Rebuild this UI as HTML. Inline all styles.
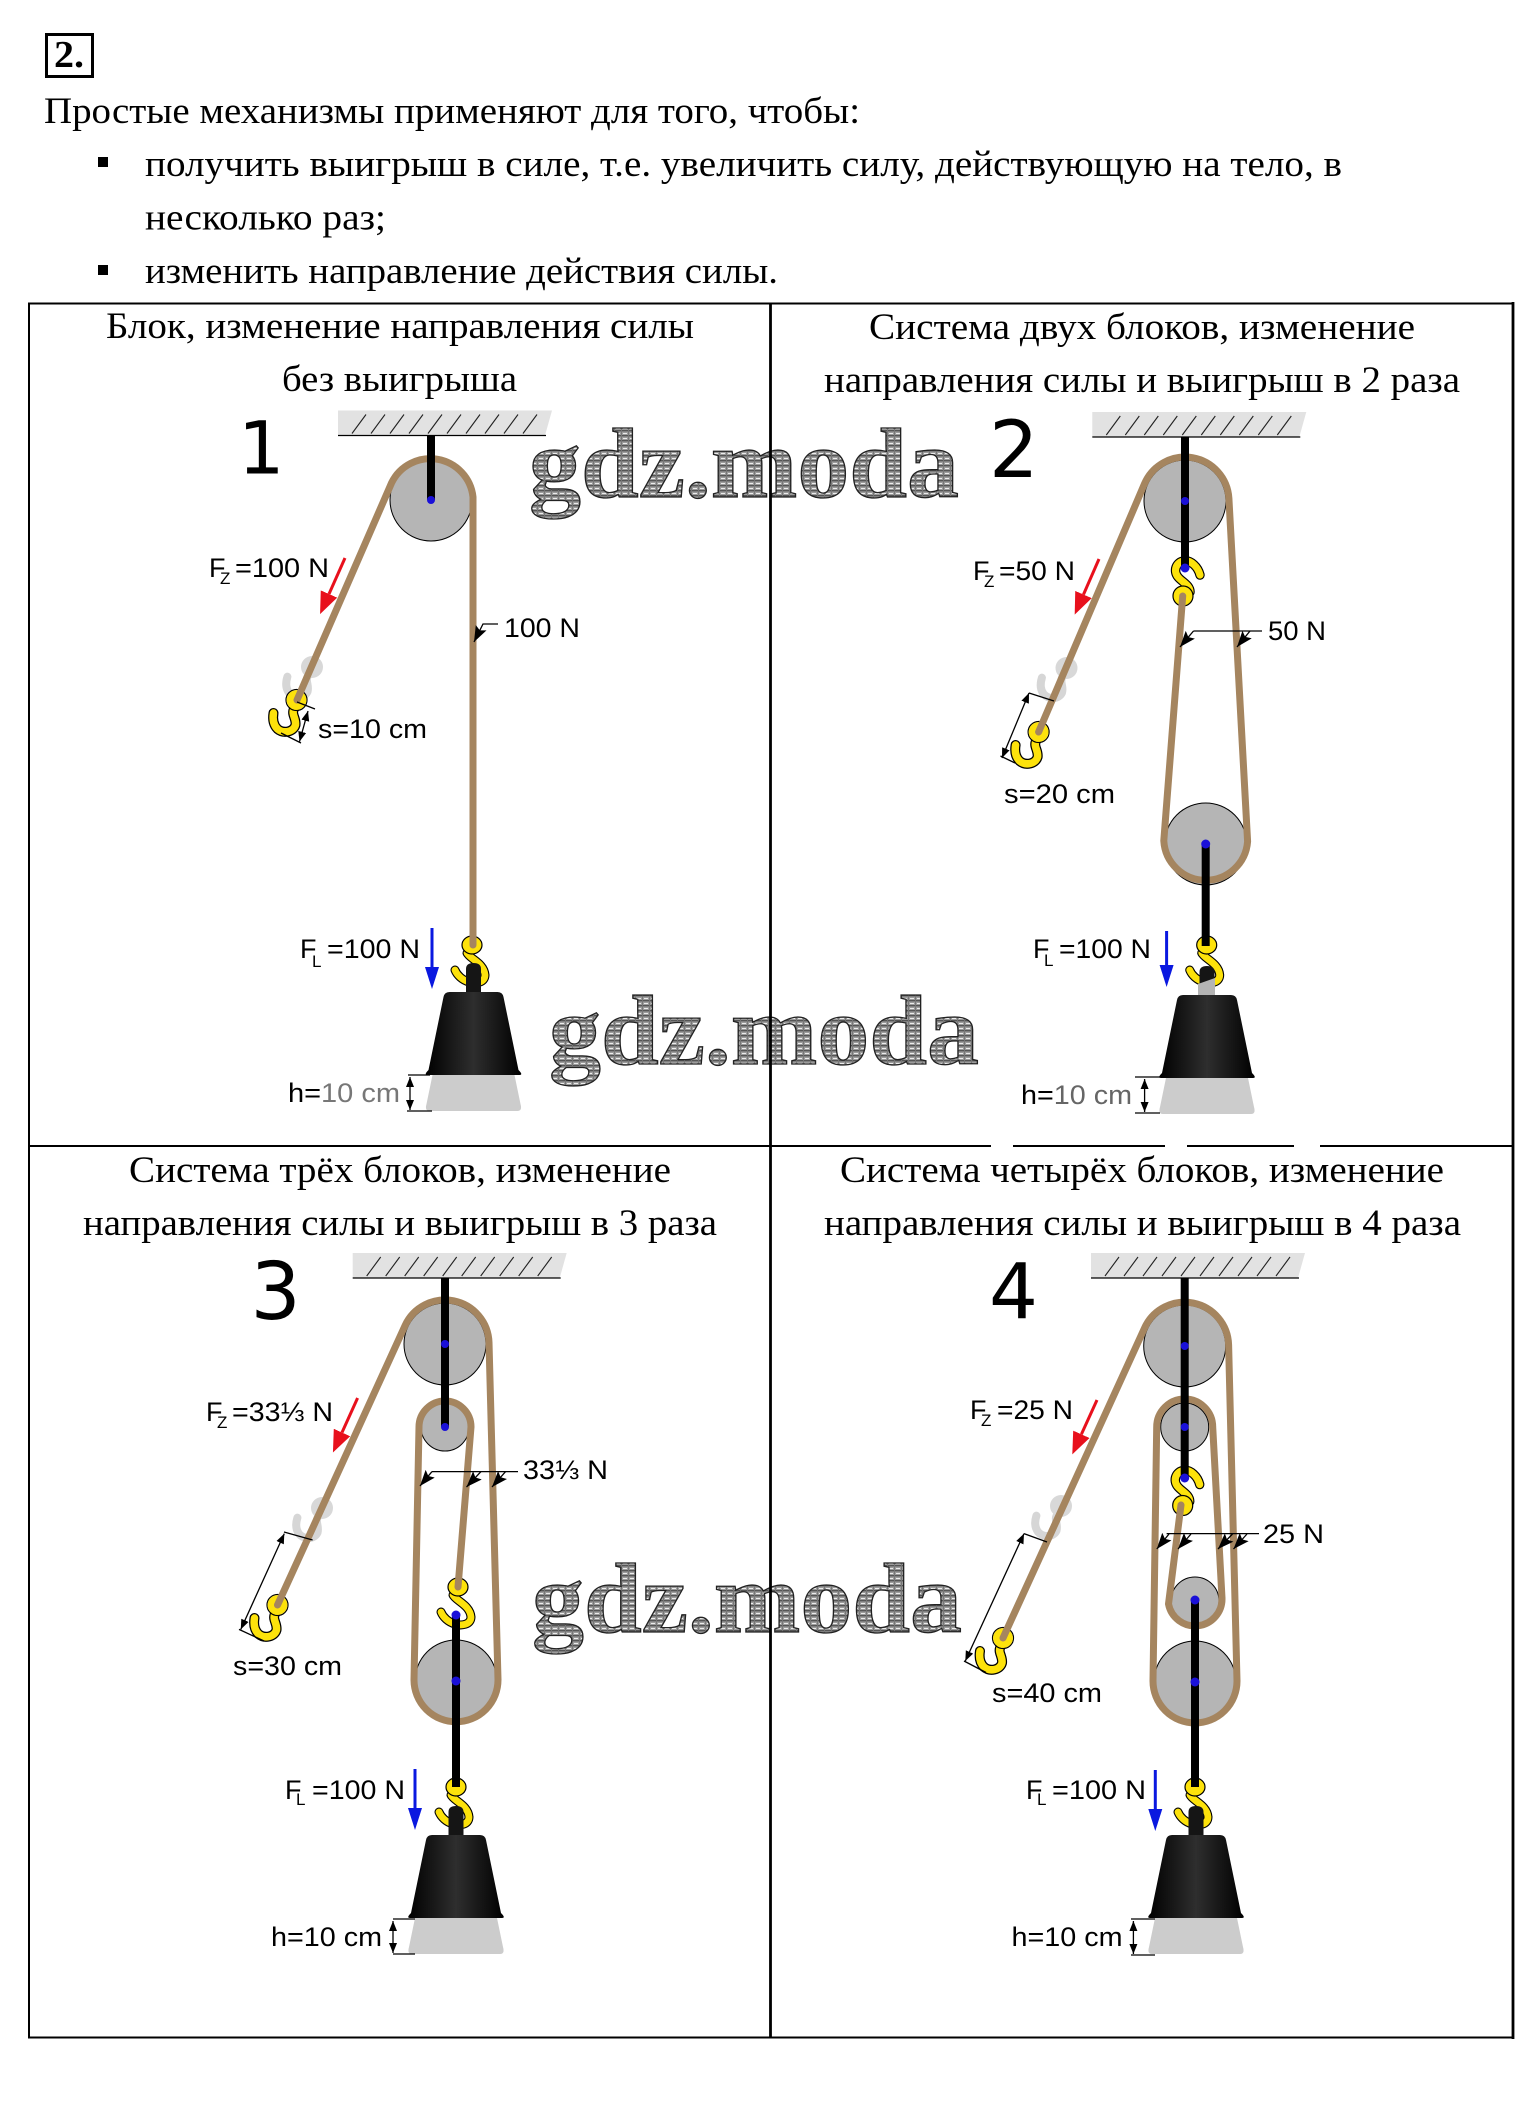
<!DOCTYPE html>
<html><head><meta charset="utf-8"><style>
html,body{margin:0;padding:0;background:#fff}
svg{display:block}
.s{font-family:"Liberation Serif","DejaVu Serif",serif;font-size:36.5px;fill:#000}
.l{font-family:"Liberation Sans","DejaVu Sans",sans-serif;font-size:27px;fill:#000}
.u{font-family:"Liberation Sans","DejaVu Sans",sans-serif;font-size:17px;fill:#000}
.n{font-family:"DejaVu Sans",sans-serif;fill:#000}
.w{font-family:"Liberation Serif",serif;font-weight:bold;font-size:100px;fill:url(#hatch);stroke:#222;stroke-width:1.3}
.r{fill:none;stroke:#a5855f;stroke-width:7;stroke-linejoin:round;stroke-linecap:round}
.ax{stroke:#000;stroke-width:8;fill:none}
.p{fill:#b5b5b5;stroke:#000;stroke-width:1}
.d{fill:#1a10d8}
.t{stroke:#000;stroke-width:1.3;fill:none}
.da{stroke:#000;stroke-width:1.3;fill:none;marker-start:url(#sm);marker-end:url(#sm)}
.la{stroke:#000;stroke-width:1.3;fill:none;marker-end:url(#bk)}
.ra{stroke:#e8101c;stroke-width:3;marker-end:url(#rd)}
.ba{stroke:#0a18e0;stroke-width:3;marker-end:url(#bl)}
</style></head><body>
<svg xmlns="http://www.w3.org/2000/svg" width="1532" height="2121" viewBox="0 0 1532 2121">
<defs>
<pattern id="hatch" width="7" height="5" patternUnits="userSpaceOnUse">
<rect width="7" height="5" fill="#9c9c9c"/><rect width="7" height="1.4" fill="#555"/><rect y="3" width="4" height="1" fill="#ececec"/><rect x="5" width="1" height="5" fill="#777"/>
</pattern>
<linearGradient id="wg" x1="0" x2="1" y1="0" y2="0"><stop offset="0" stop-color="#000"/><stop offset=".5" stop-color="#2e2e2e"/><stop offset="1" stop-color="#000"/></linearGradient>
<marker id="sm" markerUnits="userSpaceOnUse" markerWidth="12" markerHeight="10" refX="10" refY="4" orient="auto-start-reverse"><path d="M0,0 L10,4 L0,8z" fill="#000"/></marker>
<marker id="bk" markerUnits="userSpaceOnUse" markerWidth="20" markerHeight="14" refX="16" refY="6" orient="auto"><path d="M0,0 L16,6 L0,12 L3,6z" fill="#000"/></marker>
<marker id="rd" markerUnits="userSpaceOnUse" markerWidth="24" markerHeight="20" refX="0" refY="10" orient="auto"><path d="M0,1 L22,10 L0,19z" fill="#e8101c"/></marker>
<marker id="bl" markerUnits="userSpaceOnUse" markerWidth="24" markerHeight="20" refX="0" refY="10" orient="auto"><path d="M0,3 L22,10 L0,17z" fill="#0a18e0"/></marker>
<g id="ceil">
<path d="M0,-25 H214 L207,0 H0Z" fill="#e2e2e2"/>
<path d="M0,0 H208" stroke="#000" stroke-width="1.3"/>
<path d="M14,-2 l14,-19 M33,-2 l14,-19 M52,-2 l14,-19 M71,-2 l14,-19 M90,-2 l14,-19 M109,-2 l14,-19 M128,-2 l14,-19 M147,-2 l14,-19 M166,-2 l14,-19 M185,-2 l14,-19" stroke="#222" stroke-width="1.1"/>
</g>
<g id="hookA">
<path d="M-2,8 C-6,14 0,18 -1,25 C-3,32 -13,34 -19,29 C-23,25 -24,19 -23,13" fill="none" stroke="#000" stroke-width="10" stroke-linecap="round"/>
<path d="M-2,8 C-6,14 0,18 -1,25 C-3,32 -13,34 -19,29 C-23,25 -24,19 -23,13" fill="none" stroke="#fde20b" stroke-width="7.5" stroke-linecap="round"/>
<circle r="8" fill="#fde20b" stroke="#000" stroke-width="0"/><circle r="10.5" fill="none" stroke="#000" stroke-width="1.2"/><circle r="9.9" fill="#fde20b"/>
</g>
<g id="hookB">
<path d="M-5,8 C-2,14 12,18 13,30 C13,38 3,39 -3,37 C-10,35 -15,30 -17,25" fill="none" stroke="#000" stroke-width="9" stroke-linecap="round"/>
<path d="M-5,8 C-2,14 12,18 13,30 C13,38 3,39 -3,37 C-10,35 -15,30 -17,25" fill="none" stroke="#fde20b" stroke-width="6.8" stroke-linecap="round"/>
<ellipse rx="10" ry="9" fill="#fde20b" stroke="#000" stroke-width="1.2"/>
</g>
<g id="hookC">
<path d="M15,6 C13,-2 6,-9 -1,-8 C-9,-7 -12,2 -7,8 C-3,13 5,16 5,23" fill="none" stroke="#000" stroke-width="9.5" stroke-linecap="round"/>
<path d="M15,6 C13,-2 6,-9 -1,-8 C-9,-7 -12,2 -7,8 C-3,13 5,16 5,23" fill="none" stroke="#fde20b" stroke-width="7.2" stroke-linecap="round"/>
<circle cx="-2" cy="27" r="10" fill="#fde20b" stroke="#000" stroke-width="1.2"/>
</g>
<g id="ghost">
<path d="M-2,8 C-6,14 0,18 -1,25 C-3,32 -13,34 -19,29 C-23,25 -24,19 -23,13" fill="none" stroke="#d6d6d6" stroke-width="8" stroke-linecap="round" transform="rotate(8)"/>
<circle r="11" fill="#d8d8d8"/>
</g>
<g id="weight">
<path d="M-7.5,0 V-23 Q-7.5,-29 0,-29 Q7.5,-29 7.5,-23 V0Z" fill="#151515"/>
<path d="M-24,0 H24 Q29,0 30,5 L45,78 Q50,83 46,83 H-46 Q-50,83 -45,78 L-30,5 Q-29,0 -24,0Z" fill="url(#wg)"/>
<path d="M-41,83 H41 L47,112 Q49,119 44,119 H-44 Q-49,119 -47,112Z" fill="#cccccc"/>
</g>
</defs>

<!-- watermarks (behind table lines) -->
<text class="w" x="529" y="497" textLength="430" lengthAdjust="spacingAndGlyphs">gdz.moda</text>
<text class="w" x="549" y="1064" textLength="430" lengthAdjust="spacingAndGlyphs">gdz.moda</text>
<text class="w" x="532" y="1632" textLength="430" lengthAdjust="spacingAndGlyphs">gdz.moda</text>

<!-- header -->
<rect x="46.5" y="34.5" width="46" height="42" fill="none" stroke="#000" stroke-width="3"/>
<text x="54" y="67" font-family="Liberation Serif" font-weight="bold" font-size="38" textLength="30" lengthAdjust="spacingAndGlyphs">2.</text>
<text class="s" x="44" y="123" textLength="816" lengthAdjust="spacingAndGlyphs">Простые механизмы применяют для того, чтобы:</text>
<rect x="98" y="157" width="10" height="10"/>
<text class="s" x="145" y="176" textLength="1197" lengthAdjust="spacingAndGlyphs">получить выигрыш в силе, т.е. увеличить силу, действующую на тело, в</text>
<text class="s" x="145" y="229.5" textLength="241" lengthAdjust="spacingAndGlyphs">несколько раз;</text>
<rect x="98" y="265" width="10" height="10"/>
<text class="s" x="145" y="283" textLength="633" lengthAdjust="spacingAndGlyphs">изменить направление действия силы.</text>

<!-- table -->
<path d="M28,303.5 H1513 M29,1146 H1513 M28,2037.5 H1513 M29,303 V2038" stroke="#000" stroke-width="2" fill="none"/>
<path d="M1513,302 V2039 M770.5,303 V2037" stroke="#000" stroke-width="2.8" fill="none"/>
<rect x="991" y="1143" width="22" height="6" fill="#fff"/><rect x="1165" y="1143" width="22" height="6" fill="#fff"/><rect x="1294" y="1143" width="26" height="6" fill="#fff"/>

<!-- titles -->
<text class="s" x="106" y="338" textLength="588" lengthAdjust="spacingAndGlyphs">Блок, изменение направления силы</text>
<text class="s" x="282" y="391" textLength="235" lengthAdjust="spacingAndGlyphs">без выигрыша</text>
<text class="s" x="869" y="339" textLength="546" lengthAdjust="spacingAndGlyphs">Система двух блоков, изменение</text>
<text class="s" x="824" y="392" textLength="636" lengthAdjust="spacingAndGlyphs">направления силы и выигрыш в 2 раза</text>
<text class="s" x="129" y="1182" textLength="542" lengthAdjust="spacingAndGlyphs">Система трёх блоков, изменение</text>
<text class="s" x="83" y="1235" textLength="634" lengthAdjust="spacingAndGlyphs">направления силы и выигрыш в 3 раза</text>
<text class="s" x="840" y="1182" textLength="604" lengthAdjust="spacingAndGlyphs">Система четырёх блоков, изменение</text>
<text class="s" x="824" y="1235" textLength="637" lengthAdjust="spacingAndGlyphs">направления силы и выигрыш в 4 раза</text>

<!-- numbers -->
<text class="n" x="238" y="473.5" font-size="73">1</text>
<text class="n" x="989" y="477" font-size="78">2</text>
<text class="n" x="250.5" y="1319" font-size="79">3</text>
<text class="n" x="989" y="1318" font-size="77">4</text>

<!-- PANEL 1 -->
<use href="#ceil" x="338" y="435.5"/>
<use href="#ghost" x="312" y="667"/>
<circle class="p" cx="431" cy="500" r="41"/>
<use href="#hookA" x="296.5" y="700"/>
<use href="#hookB" x="472" y="945"/>
<path class="r" d="M297,700 L391.6,482.8 A43,43 0 0 1 473,497 V945"/>
<path class="ax" d="M431,435 V500"/><circle class="d" cx="431" cy="500" r="4"/>
<use href="#weight" x="473.5" y="992"/>
<path class="ra" d="M345,558 L329,594"/>
<path class="ba" d="M432,928 V967"/>
<path class="la" d="M498,624 H483 L474,642"/>
<path class="t" d="M297,702 L315,709 M281,733 L301,743 M408,1075 H430 M407,1111 H432"/>
<path class="da" d="M308,711 L299.5,741.6"/>
<path class="da" d="M410,1077 V1110"/>
<text class="l" x="209" y="577" textLength="19">F</text><text class="u" x="220" y="584">Z</text>
<text class="l" x="235" y="577" textLength="94" lengthAdjust="spacingAndGlyphs">=100 N</text>
<text class="l" x="504" y="637" textLength="76" lengthAdjust="spacingAndGlyphs">100 N</text>
<text class="l" x="318" y="738" textLength="109" lengthAdjust="spacingAndGlyphs">s=10 cm</text>
<text class="l" x="300" y="958">F</text><text class="u" x="312" y="967">L</text>
<text class="l" x="327" y="958" textLength="93" lengthAdjust="spacingAndGlyphs">=100 N</text>
<text class="l" x="288" y="1102" textLength="112" lengthAdjust="spacingAndGlyphs">h=<tspan fill="#777">10 cm</tspan></text>

<!-- PANEL 2 -->
<use href="#ceil" x="1092.3" y="437"/>
<use href="#ghost" x="1066.5" y="668"/>
<circle class="p" cx="1185" cy="501" r="41"/>
<circle class="p" cx="1205.7" cy="844" r="41"/>
<use href="#hookC" x="1185" y="569"/>
<use href="#hookA" x="1038.6" y="732"/>
<use href="#hookB" x="1206.7" y="945"/>
<path class="r" d="M1038.6,732 L1144.5,483.8 A44,44 0 0 1 1228.9,498.4 L1247.6,841.5 A42,42 0 0 1 1163.8,840.8 L1182.7,596"/>
<path class="ax" d="M1185,437 V568"/><path class="ax" d="M1205.7,844 V946"/>
<circle class="d" cx="1185" cy="501" r="4"/><circle class="d" cx="1185" cy="568" r="4.5"/><circle class="d" cx="1205.7" cy="844" r="4.5"/>
<use href="#weight" x="1207" y="995"/>
<path d="M1198,984 L1215,978 V995 H1198Z" fill="#b4b4b4"/>
<path class="ra" d="M1099,559 L1083.5,594.5"/>
<path class="ba" d="M1166.6,931 V965"/>
<path class="t" d="M1193.5,631 H1262"/>
<path class="la" d="M1193.5,631 L1180,647"/><path class="la" d="M1250,631 L1237,647"/>
<path class="t" d="M1029,693 L1054,701 M1000.5,756 L1015,763 M1135,1077 H1160 M1135,1113 H1160"/>
<path class="da" d="M1029,693 L1002,758"/>
<path class="da" d="M1144.6,1079 V1112"/>
<text class="l" x="973" y="580">F</text><text class="u" x="984" y="587">Z</text>
<text class="l" x="999" y="580" textLength="76" lengthAdjust="spacingAndGlyphs">=50 N</text>
<text class="l" x="1268" y="640" textLength="58" lengthAdjust="spacingAndGlyphs">50 N</text>
<text class="l" x="1004" y="803" textLength="111" lengthAdjust="spacingAndGlyphs">s=20 cm</text>
<text class="l" x="1033" y="958">F</text><text class="u" x="1044" y="966">L</text>
<text class="l" x="1059" y="958" textLength="92" lengthAdjust="spacingAndGlyphs">=100 N</text>
<text class="l" x="1021" y="1104" textLength="111" lengthAdjust="spacingAndGlyphs" fill="#555">h=<tspan fill="#666">10 cm</tspan></text>

<!-- PANEL 3 -->
<use href="#ceil" x="352.7" y="1278"/>
<use href="#ghost" x="322" y="1508"/>
<circle class="p" cx="445" cy="1344" r="41"/>
<circle class="p" cx="445" cy="1427" r="24"/>
<circle class="p" cx="456" cy="1681" r="41"/>
<use href="#hookB" x="458" y="1587"/>
<use href="#hookA" x="277.5" y="1605"/>
<use href="#hookB" x="456" y="1787"/>
<path class="r" d="M277.5,1605 L405,1325.7 A44,44 0 0 1 489,1342.5 L498,1679.6 A42,42 0 0 1 414,1680 L419,1427 A26,26 0 0 1 471,1427 L458,1587"/>
<path class="ax" d="M445,1278 V1427"/><path class="ax" d="M456,1615 V1787"/>
<circle class="d" cx="445" cy="1344" r="4"/><circle class="d" cx="445" cy="1427" r="4"/><circle class="d" cx="456" cy="1615" r="4.5"/><circle class="d" cx="456" cy="1681" r="4.5"/>
<use href="#weight" x="456" y="1835"/>
<path class="ra" d="M357.6,1398 L342,1432.5"/>
<path class="ba" d="M415,1769 V1808"/>
<path class="t" d="M432,1471.6 H518"/>
<path class="la" d="M432,1471.6 L420,1486"/><path class="la" d="M481,1471.6 L466.5,1487"/><path class="la" d="M505.6,1471.6 L492,1487"/>
<path class="t" d="M284,1532 L312.6,1540 M239,1629.4 L264,1641 M393,1919 H415 M393,1954 H415"/>
<path class="da" d="M284.3,1533.6 L240.8,1629.4"/>
<path class="da" d="M393,1921 V1953"/>
<text class="l" x="206" y="1421">F</text><text class="u" x="217" y="1428">Z</text>
<text class="l" x="232" y="1421" textLength="101" lengthAdjust="spacingAndGlyphs">=33⅓ N</text>
<text class="l" x="523" y="1479" textLength="85" lengthAdjust="spacingAndGlyphs">33⅓ N</text>
<text class="l" x="233" y="1675" textLength="109" lengthAdjust="spacingAndGlyphs">s=30 cm</text>
<text class="l" x="285" y="1799">F</text><text class="u" x="296" y="1805">L</text>
<text class="l" x="312" y="1799" textLength="93" lengthAdjust="spacingAndGlyphs">=100 N</text>
<text class="l" x="271" y="1946" textLength="111" lengthAdjust="spacingAndGlyphs">h=10 cm</text>

<!-- PANEL 4 -->
<use href="#ceil" x="1091" y="1278"/>
<use href="#ghost" x="1061" y="1506"/>
<circle class="p" cx="1184.7" cy="1346" r="41"/>
<circle class="p" cx="1184.7" cy="1427" r="24"/>
<circle class="p" cx="1195" cy="1601" r="24"/>
<circle class="p" cx="1195" cy="1682" r="41"/>
<use href="#hookC" x="1184.7" y="1478.5"/>
<use href="#hookA" x="1003" y="1638"/>
<use href="#hookB" x="1195" y="1787"/>
<path class="r" d="M1003,1638 L1144.7,1327.7 A44,44 0 0 1 1228.6,1344.7 L1237,1681 A42,42 0 0 1 1153,1681 L1156.7,1427 A28,28 0 0 1 1212.7,1427 L1222,1598 A27,27 0 0 1 1168.5,1604 L1181,1505"/>
<path class="ax" d="M1184.7,1278 V1478"/><path class="ax" d="M1195,1600 V1787"/>
<circle class="d" cx="1184.7" cy="1346" r="4"/><circle class="d" cx="1184.7" cy="1427" r="4"/><circle class="d" cx="1184.7" cy="1478" r="4.5"/><circle class="d" cx="1195" cy="1600" r="4.5"/><circle class="d" cx="1195" cy="1682" r="4.5"/>
<use href="#weight" x="1196" y="1835"/>
<path class="ra" d="M1097,1400 L1081.4,1434.3"/>
<path class="ba" d="M1155.3,1770 V1809"/>
<path class="t" d="M1166.6,1533.6 H1259"/>
<path class="la" d="M1169,1534 L1156.8,1549"/><path class="la" d="M1191,1534 L1178,1549"/><path class="la" d="M1232.5,1534 L1218,1549"/><path class="la" d="M1247,1534 L1233.5,1549"/>
<path class="t" d="M1024,1533.6 L1047,1542 M964,1661 L986,1672.5 M1131,1919 H1155 M1131,1955 H1155"/>
<path class="da" d="M1024,1533.6 L965.3,1661"/>
<path class="da" d="M1133.4,1921 V1954"/>
<text class="l" x="970" y="1419">F</text><text class="u" x="981" y="1426">Z</text>
<text class="l" x="997" y="1419" textLength="76" lengthAdjust="spacingAndGlyphs">=25 N</text>
<text class="l" x="1263" y="1543" textLength="61" lengthAdjust="spacingAndGlyphs">25 N</text>
<text class="l" x="992" y="1702" textLength="110" lengthAdjust="spacingAndGlyphs">s=40 cm</text>
<text class="l" x="1026" y="1799">F</text><text class="u" x="1037" y="1805">L</text>
<text class="l" x="1052" y="1799" textLength="94" lengthAdjust="spacingAndGlyphs">=100 N</text>
<text class="l" x="1011.5" y="1946" textLength="111" lengthAdjust="spacingAndGlyphs">h=10 cm</text>
</svg>
</body></html>
